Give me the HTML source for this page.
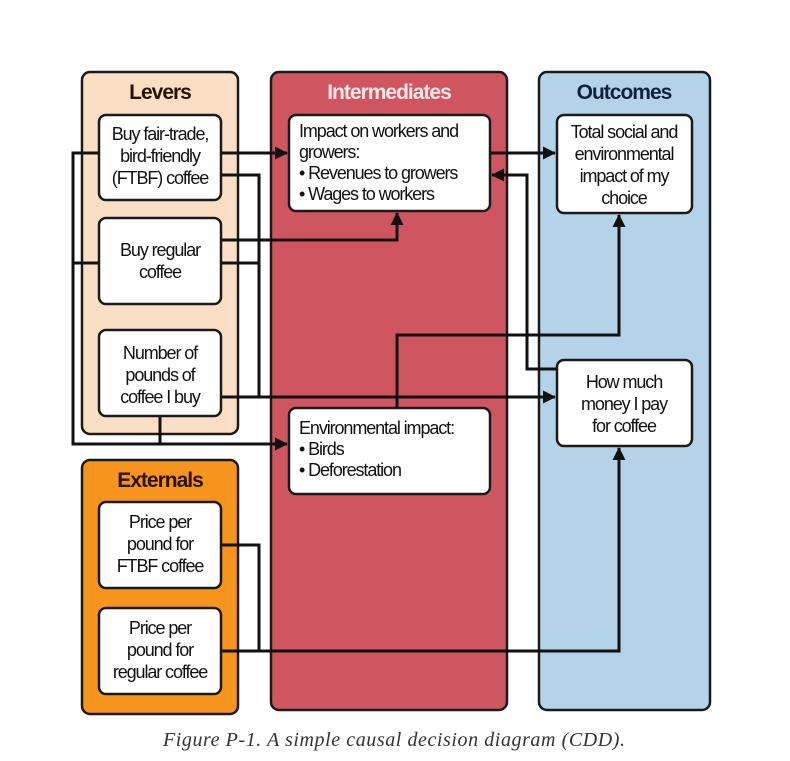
<!DOCTYPE html>
<html><head><meta charset="utf-8"><style>
html,body{margin:0;padding:0;background:#fff;}
svg{display:block;}
text{font-family:"Liberation Sans",sans-serif;}
.n{font-size:18px;letter-spacing:-1.1px;fill:#111;}
.h{font-size:21px;font-weight:bold;letter-spacing:-1px;}
</style></head><body>
<svg width="790" height="761" viewBox="0 0 790 761" xmlns="http://www.w3.org/2000/svg">
<defs><marker id="a" markerWidth="13" markerHeight="13" refX="12" refY="6.5" orient="auto" markerUnits="userSpaceOnUse"><path d="M0,0 L13,6.5 L0,13 z" fill="#111"/></marker></defs>
<rect x="82" y="72" width="156" height="362" rx="8" fill="#fadfc4" stroke="#1a1a1a" stroke-width="2.5"/>
<rect x="271" y="72" width="236" height="638" rx="8" fill="#cf5560" stroke="#1a1a1a" stroke-width="2.5"/>
<rect x="539" y="72" width="171" height="638" rx="8" fill="#b5d3e8" stroke="#1a1a1a" stroke-width="2.5"/>
<rect x="82" y="460" width="156" height="254" rx="8" fill="#f7941d" stroke="#1a1a1a" stroke-width="2.5"/>
<text class="h" x="160" y="99" text-anchor="middle" fill="#2a1208">Levers</text>
<text class="h" x="389" y="99" text-anchor="middle" fill="#fde8e8">Intermediates</text>
<text class="h" x="624" y="99" text-anchor="middle" fill="#10233a">Outcomes</text>
<text class="h" x="160" y="487" text-anchor="middle" fill="#2a1208">Externals</text>
<g fill="none" stroke="#111" stroke-width="3">
<path d="M221,153 H287" marker-end="url(#a)"/>
<path d="M221,175 H259 V397"/>
<path d="M99,153 H73 V444 H287" marker-end="url(#a)"/>
<path d="M99,263 H73"/>
<path d="M160,416 V444"/>
<path d="M221,240 H397 V213" marker-end="url(#a)"/>
<path d="M221,263 H259"/>
<path d="M221,397 H555" marker-end="url(#a)"/>
<path d="M397,408 V335 H619 V215" marker-end="url(#a)"/>
<path d="M557,369 H527 V175 H492" marker-end="url(#a)"/>
<path d="M490,153 H555" marker-end="url(#a)"/>
<path d="M221,545 H259 V651"/>
<path d="M221,651 H619 V448" marker-end="url(#a)"/>
</g>
<g fill="#fff" stroke="#1a1a1a" stroke-width="2.5">
<rect x="99" y="115" width="122" height="85" rx="7"/>
<rect x="99" y="218" width="122" height="86" rx="7"/>
<rect x="99" y="330" width="122" height="86" rx="7"/>
<rect x="289" y="115" width="201" height="96" rx="7"/>
<rect x="289" y="408" width="201" height="86" rx="7"/>
<rect x="557" y="115" width="135" height="98" rx="7"/>
<rect x="557" y="360" width="135" height="86" rx="7"/>
<rect x="99" y="502" width="122" height="86" rx="7"/>
<rect x="99" y="608" width="122" height="86" rx="7"/>
</g>
<g class="n" text-anchor="middle">
<text x="160" y="140">Buy fair-trade,</text><text x="160" y="162">bird-friendly</text><text x="160" y="184">(FTBF) coffee</text>
<text x="160" y="256">Buy regular</text><text x="160" y="278">coffee</text>
<text x="160" y="359">Number of</text><text x="160" y="381">pounds of</text><text x="160" y="403">coffee I buy</text>
<text x="624" y="138">Total social and</text><text x="624" y="160">environmental</text><text x="624" y="182">impact of my</text><text x="624" y="204">choice</text>
<text x="624" y="388">How much</text><text x="624" y="410">money I pay</text><text x="624" y="432">for coffee</text>
<text x="160" y="528">Price per</text><text x="160" y="550">pound for</text><text x="160" y="572">FTBF coffee</text>
<text x="160" y="634">Price per</text><text x="160" y="656">pound for</text><text x="160" y="678">regular coffee</text>
</g>
<g class="n">
<text x="299" y="137">Impact on workers and</text><text x="299" y="158">growers:</text><text x="299" y="179">• Revenues to growers</text><text x="299" y="200">• Wages to workers</text>
<text x="299" y="434">Environmental impact:</text><text x="299" y="455">• Birds</text><text x="299" y="476">• Deforestation</text>
</g>
<text x="394" y="746" text-anchor="middle" textLength="462" style="font-family:'Liberation Serif',serif;font-style:italic;font-size:20px;fill:#333;">Figure P-1. A simple causal decision diagram (CDD).</text>
</svg>
</body></html>
